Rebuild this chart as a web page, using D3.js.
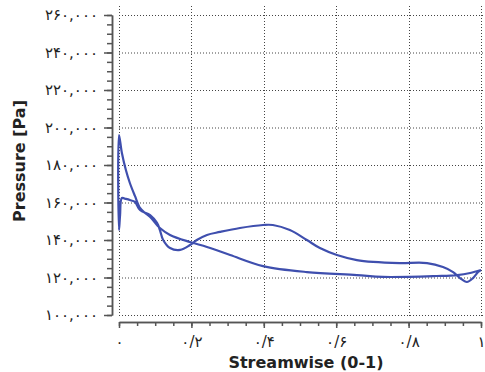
<!DOCTYPE html>
<html>
<head>
<meta charset="utf-8">
<script src="https://cdn.jsdelivr.net/npm/d3@7"></script>
<style>
  body { margin: 0; background: #fff; }
  .grid line { stroke: #444; stroke-width: 1; stroke-dasharray: 1,2; }
  .axis path, .axis line { stroke: #555; stroke-width: 1.5; }
  .axis text { font-family: "DejaVu Sans", sans-serif; font-size: 15px; fill: #222; letter-spacing: 1.5px; }
  .title { font-family: "DejaVu Sans", sans-serif; font-size: 16px; font-weight: bold; fill: #222; }
</style>
</head>
<body>
<svg id="chart" width="485" height="372"></svg>
<script>
// ticks and their (Persian) labels
const xTicks = [0, 0.2, 0.4, 0.6, 0.8, 1];
const xTickLabels = ['۰', '۰/۲', '۰/۴', '۰/۶', '۰/۸', '۱'];
const yTicks = [100000, 120000, 140000, 160000, 180000, 200000, 220000, 240000, 260000];
const yTickLabels = ['۱۰۰,۰۰۰', '۱۲۰,۰۰۰', '۱۴۰,۰۰۰', '۱۶۰,۰۰۰', '۱۸۰,۰۰۰', '۲۰۰,۰۰۰', '۲۲۰,۰۰۰', '۲۴۰,۰۰۰', '۲۶۰,۰۰۰'];

// branch starting at the top of the leading-edge spike
const branchAX = [0, 0.008, 0.019, 0.030, 0.044, 0.058, 0.072, 0.086, 0.113, 0.141, 0.196, 0.243, 0.307, 0.398, 0.519, 0.657, 0.729, 0.878, 0.934, 0.970, 1.0];
const branchAP = [196000, 186400, 177300, 170400, 163500, 157100, 154400, 152300, 146400, 142700, 138900, 136300, 132000, 126100, 122900, 121300, 120300, 120800, 121300, 122400, 124000];

// branch starting at the bottom of the spike
const branchBX = [0, 0.003, 0.008, 0.019, 0.030, 0.044, 0.058, 0.086, 0.105, 0.113, 0.122, 0.141, 0.169, 0.196, 0.215, 0.243, 0.279, 0.334, 0.398, 0.425, 0.472, 0.519, 0.555, 0.602, 0.657, 0.702, 0.776, 0.851, 0.895, 0.923, 0.942, 0.961, 0.978, 0.992, 1.0];
const branchBP = [145300, 153300, 162400, 161900, 161300, 160300, 156000, 153300, 149100, 145300, 140000, 135700, 134700, 137300, 140000, 142700, 144300, 146400, 148000, 148000, 145300, 140000, 135700, 132000, 129300, 128300, 127700, 127700, 125600, 122900, 119700, 117600, 119700, 122900, 124000];

const svg = d3.select('#chart');

const x = d3.scaleLinear().domain([0, 1]).range([119, 481]);
const y = d3.scaleLinear().domain([100000, 260000]).range([315, 15]);

// dotted grid
const grid = svg.append('g').attr('class', 'grid');
grid.selectAll('.h').data(yTicks).enter().append('line')
  .attr('x1', x(0)).attr('x2', x(1) + 3)
  .attr('y1', d => y(d) + 0.5).attr('y2', d => y(d) + 0.5);
grid.selectAll('.v').data(xTicks).enter().append('line')
  .attr('x1', d => Math.round(x(d)) + 0.5).attr('x2', d => Math.round(x(d)) + 0.5)
  .attr('y1', 6).attr('y2', y(100000) + 2);

// y axis (minor + major)
const yMinor = d3.range(100000, 260001, 5000);
svg.append('g').attr('class', 'axis')
  .attr('transform', 'translate(112,0)')
  .call(d3.axisLeft(y).tickValues(yMinor).tickSize(5).tickSizeOuter(0).tickFormat(''));
svg.append('g').attr('class', 'axis')
  .attr('transform', 'translate(112,0)')
  .call(d3.axisLeft(y).tickValues(yTicks).tickSize(8).tickSizeOuter(0).tickPadding(6)
    .tickFormat((d, i) => yTickLabels[i]));

// x axis (minor + major)
const xMinor = d3.range(0, 1.0001, 0.05);
svg.append('g').attr('class', 'axis')
  .attr('transform', 'translate(0,322)')
  .call(d3.axisBottom(x).tickValues(xMinor).tickSize(4).tickSizeOuter(0).tickFormat(''));
svg.append('g').attr('class', 'axis')
  .attr('transform', 'translate(0,322)')
  .call(d3.axisBottom(x).tickValues(xTicks).tickSize(6).tickSizeOuter(0).tickPadding(8)
    .tickFormat((d, i) => xTickLabels[i]));

// closed pressure loop: branch A reversed, spike, then branch B
const pts = [];
for (let i = branchAX.length - 1; i >= 0; i--) pts.push([branchAX[i], branchAP[i]]);
for (let i = 0; i < branchBX.length; i++) pts.push([branchBX[i], branchBP[i]]);

svg.append('path')
  .datum(pts)
  .attr('fill', 'none')
  .attr('stroke', '#3f4fae')
  .attr('stroke-width', 2.2)
  .attr('stroke-linejoin', 'round')
  .attr('d', d3.line()
    .x(d => x(d[0]))
    .y(d => y(d[1]))
    .curve(d3.curveCatmullRom.alpha(0.5)));

// axis titles
svg.append('text').attr('class', 'title')
  .attr('x', 306).attr('y', 368)
  .attr('text-anchor', 'middle')
  .text('Streamwise (0-1)');

svg.append('text').attr('class', 'title')
  .attr('transform', 'translate(25,161) rotate(-90)')
  .attr('text-anchor', 'middle')
  .text('Pressure [Pa]');
</script>
</body>
</html>
